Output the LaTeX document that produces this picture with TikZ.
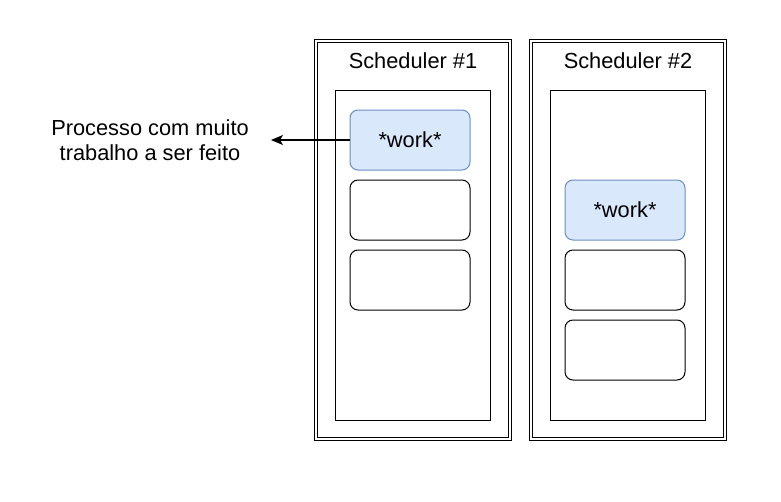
\documentclass[tikz,border=0pt]{standalone}
\usepackage{fontspec}
\setmainfont{Liberation Sans}
\usetikzlibrary{arrows.meta}
\definecolor{workfill}{HTML}{DAE8FC}
\definecolor{workline}{HTML}{6C8EBF}
\begin{document}
\begin{tikzpicture}[x=1pt,y=-1pt,
  txt/.style={font=\fontsize{21.8}{25}\selectfont},
  outerbox/.style={draw, double, double distance=2pt, line width=0.9pt},
  innerbox/.style={draw, line width=1pt},
  slot/.style={draw, line width=1pt, rounded corners=8pt},
  worktask/.style={slot, fill=workfill, draw=workline}]
\useasboundingbox (0,0) rectangle (781,501);

% Scheduler #1
\draw[outerbox] (316,41) rectangle (510,439);
\node[txt] (t1) at (413,61) {Scheduler \#1};
\draw[innerbox] (335,90) rectangle (490,420);
\draw[worktask] (350,110) rectangle (470,170);
\node[txt] (w1) at (410,140) {*work*};
\draw[slot] (350,180) rectangle (470,240);
\draw[slot] (350,250) rectangle (470,310);
\coordinate (w1w) at (350,140);

% Scheduler #2
\draw[outerbox] (531,41) rectangle (725,439);
\node[txt] (t2) at (628,61) {Scheduler \#2};
\draw[innerbox] (550,90) rectangle (705,420);
\draw[worktask] (565,180) rectangle (685,240);
\node[txt] (w2) at (625,210) {*work*};
\draw[slot] (565,250) rectangle (685,310);
\draw[slot] (565,320) rectangle (685,380);

% Label for the busy process
\node[txt, align=center] (lbl) at (150,140) {Processo com muito\\trabalho a ser feito};
\coordinate (tip) at (271,140);
\draw[line width=1.1pt, -{Stealth[length=12pt,width=10pt,inset=3pt]}] (w1w) -- (tip);
\end{tikzpicture}
\end{document}
